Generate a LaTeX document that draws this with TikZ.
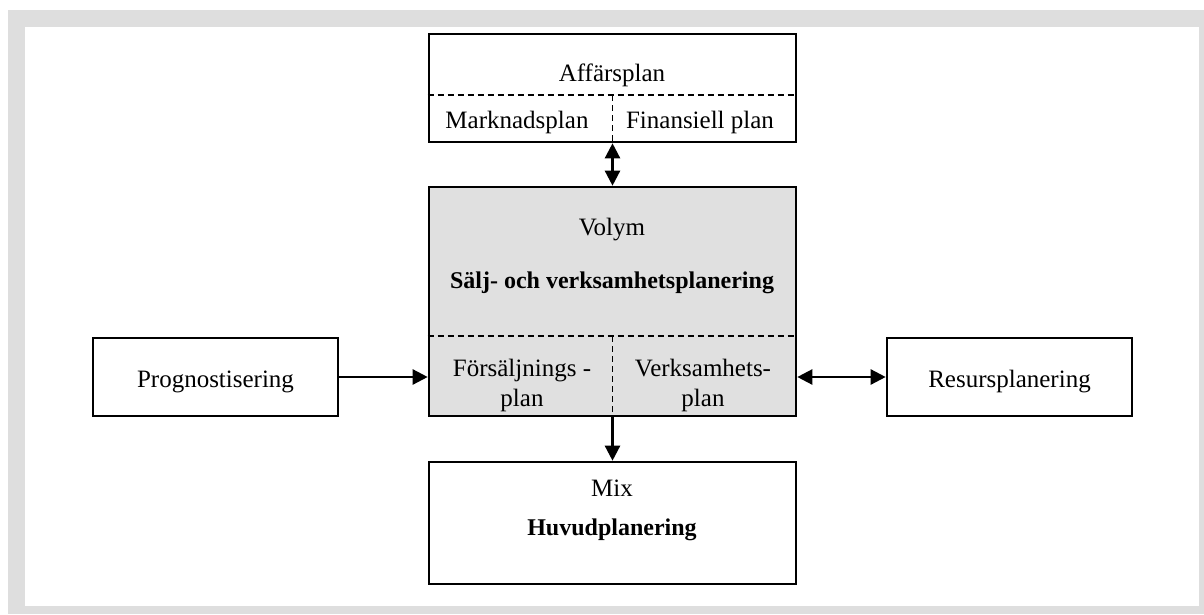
\documentclass[tikz,border=0pt]{standalone}
\usepackage{fontspec}
\setmainfont{Liberation Serif}
\usetikzlibrary{arrows.meta,calc}
\definecolor{framegray}{HTML}{DEDEDE}
\definecolor{boxgray}{HTML}{E0E0E0}
\begin{document}
\begin{tikzpicture}[x=1pt,y=-1pt,
  block/.style={draw=black, line width=2.6pt, inner sep=0pt},
  divider/.style={draw=black, line width=1.7pt, dash pattern=on 6pt off 4pt},
  lbl/.style={inner sep=0pt, font=\fontsize{25}{30}\selectfont},
  blbl/.style={inner sep=0pt, font=\fontsize{24}{29}\selectfont\bfseries},
  link/.style={line width=2.4pt, -{Triangle[length=15pt,width=15pt]}},
  dlink/.style={line width=2.4pt, {Triangle[length=15pt,width=15pt]}-{Triangle[length=15pt,width=15pt]}}]
  % frame
  \useasboundingbox (0,0) rectangle (1204,614);
  \fill[white] (0,0) rectangle (1204,614);
  \fill[framegray] (8,10) rectangle (1204,614);
  \fill[white] (25,27) rectangle (1199,606);

  % blocks
  \node[block, fill=white, minimum width=367pt, minimum height=108pt] (top) at (612.5,88) {};
  \node[block, fill=boxgray, minimum width=367pt, minimum height=229pt] (mid) at (612.5,301.5) {};
  \node[block, fill=white, minimum width=367pt, minimum height=122pt] (bot) at (612.5,523) {};
  \node[block, fill=white, minimum width=245pt, minimum height=78pt] (prog) at (215.5,377) {};
  \node[block, fill=white, minimum width=245pt, minimum height=78pt] (res) at (1009.5,377) {};

  % dashed dividers in the top block
  \coordinate (tl) at ([yshift=-7pt]top.west);
  \coordinate (tr) at ([yshift=-7pt]top.east);
  \coordinate (tm) at ($(tl)!0.5!(tr)$);
  \draw[divider] (tl) -- (tr);
  \draw[divider] (tm) -- (tm |- top.south);

  % dashed dividers in the middle block
  \coordinate (ml) at ([yshift=-34.5pt]mid.west);
  \coordinate (mr) at ([yshift=-34.5pt]mid.east);
  \coordinate (mm) at ($(ml)!0.5!(mr)$);
  \draw[divider] (ml) -- (mr);
  \draw[divider] (mm) -- (mm |- mid.south);

  % labels
  \node[lbl] (affars) at (612,75) {Affärsplan};
  \node[lbl] (markn) at (517,122) {Marknadsplan};
  \node[lbl] (finans) at (700,122) {Finansiell plan};
  \node[lbl] (volym) at (612,230) {Volym};
  \node[blbl] (salj) at (612,283) {Sälj- och verksamhetsplanering};
  \node[lbl, align=center] (fors) at (522,385) {Försäljnings -\\plan};
  \node[lbl, align=center] (verks) at (703,385) {Verksamhets-\\plan};
  \node[lbl] (progt) at (215.5,382) {Prognostisering};
  \node[lbl] (rest) at (1009.5,382) {Resursplanering};
  \node[lbl] (mix) at (612,488) {Mix};
  \node[blbl] (huvud) at (612,530) {Huvudplanering};

  % connectors
  \draw[dlink] (top.south) -- (mid.north);
  \draw[link] (mid.south) -- (bot.north);
  \draw[link] (prog.east) -- (prog.east -| mid.west);
  \draw[dlink] (res.west -| mid.east) -- (res.west);
\end{tikzpicture}
\end{document}
